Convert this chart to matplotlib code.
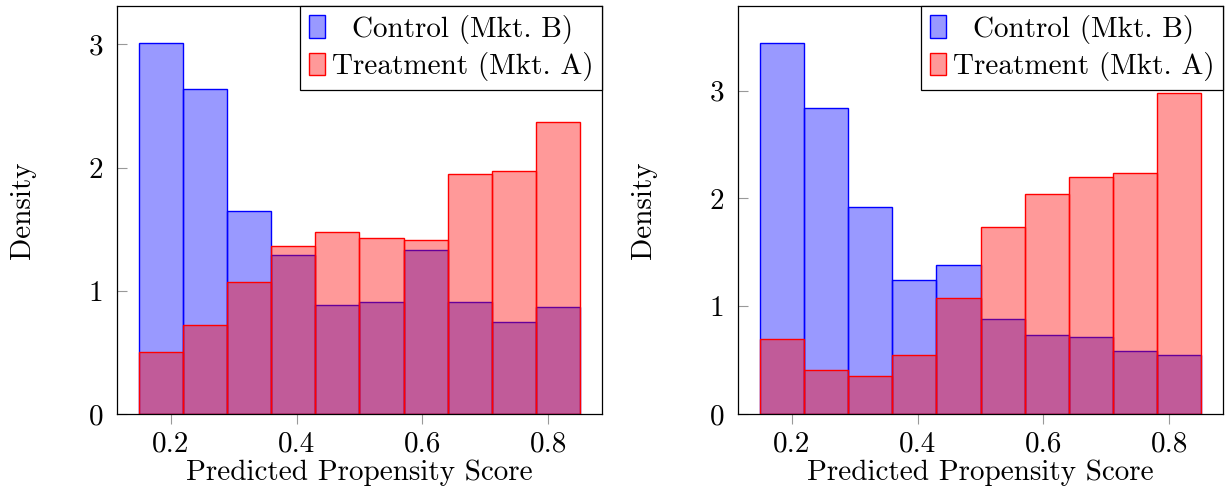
import matplotlib
matplotlib.use("Agg")
import matplotlib.pyplot as plt
from matplotlib.patches import Patch

plt.rcParams['font.family'] = ['cmr10', 'DejaVu Serif']
plt.rcParams['axes.formatter.use_mathtext'] = True
plt.rcParams['mathtext.fontset'] = 'cm'

bin_edges = [0.15, 0.22, 0.29, 0.36, 0.43, 0.50, 0.57, 0.64, 0.71, 0.78, 0.85]

left_control = [3.01, 2.64, 1.65, 1.29, 0.885, 0.91, 1.33, 0.91, 0.75, 0.87]
left_treatment = [0.50, 0.72, 1.07, 1.36, 1.48, 1.43, 1.41, 1.945, 1.97, 2.37]

right_control = [3.44, 2.835, 1.92, 1.245, 1.38, 0.885, 0.73, 0.71, 0.585, 0.545]
right_treatment = [0.70, 0.405, 0.35, 0.55, 1.08, 1.73, 2.045, 2.20, 2.235, 2.975]

xticks = [0.2, 0.4, 0.6, 0.8]
xtick_labels = ["0.2", "0.4", "0.6", "0.8"]
yticks = [0, 1, 2, 3]
labels = ["Control (Mkt. B)", "Treatment (Mkt. A)"]
xlabel = "Predicted Propensity Score"
ylabel = "Density"

FS = 21.0
W, H = 1225, 496
fig = plt.figure(figsize=(W / 100, H / 100), dpi=100)

panels = [
    (117, left_control, left_treatment),
    (738, right_control, right_treatment),
]

blue_face = (0, 0, 1, 0.4)
red_face = (1, 0, 0, 0.4)

legends = []
for x0, ctrl, trt in panels:
    ax = fig.add_axes([x0 / W, (H - 414) / H, 485 / W, 408 / H])
    lefts = bin_edges[:-1]
    widths = [b - a for a, b in zip(bin_edges[:-1], bin_edges[1:])]
    ax.bar(lefts, ctrl, width=widths, align='edge', facecolor=blue_face,
           edgecolor=(0, 0, 1), linewidth=1.0, zorder=2)
    ax.bar(lefts, trt, width=widths, align='edge', facecolor=red_face,
           edgecolor=(1, 0, 0), linewidth=1.0, zorder=3)
    span = bin_edges[-1] - bin_edges[0]
    ax.set_xlim(bin_edges[0] - 0.05 * span, bin_edges[-1] + 0.05 * span)
    ax.set_ylim(0, max(max(ctrl), max(trt)) * 1.1)
    ax.set_xticks(xticks)
    ax.set_xticklabels(xtick_labels)
    ax.set_yticks(yticks)
    ax.set_yticklabels([str(v) for v in yticks])
    ax.tick_params(axis='x', direction='out', length=7.5, width=0.8,
                   color='#999999', labelsize=FS, pad=5)
    ax.tick_params(axis='y', direction='in', length=7.5, width=0.8,
                   color='#999999', labelsize=FS, pad=10)
    for s in ax.spines.values():
        s.set_color('black')
        s.set_linewidth(0.9)
        s.set_zorder(5)
    ax.set_xlabel(xlabel, fontsize=FS, labelpad=1.5)
    ax.set_ylabel(ylabel, fontsize=FS, labelpad=38)
    handles = [Patch(facecolor=blue_face, edgecolor=(0, 0, 1), linewidth=1.0),
               Patch(facecolor=red_face, edgecolor=(1, 0, 0), linewidth=1.0)]
    leg = ax.legend(handles, labels, loc='upper right', fontsize=FS,
                    frameon=True, fancybox=False, framealpha=1,
                    edgecolor='black', borderaxespad=0, handlelength=0.55,
                    handleheight=0.8, handletextpad=0.22, labelspacing=0.28,
                    borderpad=0.3)
    leg.get_frame().set_linewidth(0.9)
    leg.set_zorder(10)
    legends.append(leg)

fig.canvas.draw()
r = fig.canvas.get_renderer()
for leg in legends:
    texts = leg.get_texts()
    ws = [t.get_window_extent(r).width for t in texts]
    wmax = max(ws)
    for t, w in zip(texts, ws):
        t.set_x((wmax - w) / 2)

fig.savefig("out.png", dpi=100)
